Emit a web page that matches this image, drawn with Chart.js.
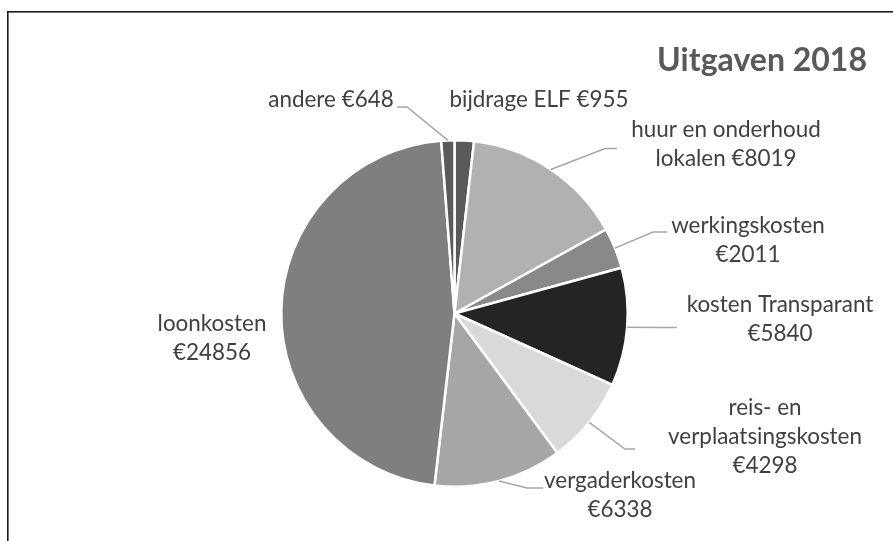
<!DOCTYPE html>
<html>
<head>
<meta charset="utf-8">
<script src="https://cdn.jsdelivr.net/npm/chart.js@4.4.1/dist/chart.umd.min.js"></script>
<style>
  html, body { margin: 0; padding: 0; background: #ffffff; }
  #wrap { width: 893px; height: 541px; position: relative; }
</style>
</head>
<body>
<div id="wrap"><canvas id="c" width="893" height="541"></canvas></div>
<script>
// ---- data ----
const categories = ["bijdrage ELF", "huur en onderhoud lokalen", "werkingskosten", "kosten Transparant",
                    "reis- en verplaatsingskosten", "vergaderkosten", "loonkosten", "andere"];
const amounts = [955, 8019, 2011, 5840, 4298, 6338, 24856, 648];
const labelLines = [
  ["bijdrage ELF €955"],
  ["huur en onderhoud", "lokalen €8019"],
  ["werkingskosten", "€2011"],
  ["kosten Transparant", "€5840"],
  ["reis- en", "verplaatsingskosten", "€4298"],
  ["vergaderkosten", "€6338"],
  ["loonkosten", "€24856"],
  ["andere €648"]
];
const chartTitle = "Uitgaven 2018";

// ---- styling / layout ----
const sliceColors = ["#5a5a5a", "#b1b1b1", "#898989", "#242424", "#d9d9d9", "#a6a6a6", "#7f7f7f", "#5a5a5a"];
// label anchor: centre x, first baseline y ; leader: elbow point and end point (null = no leader)
const labelLayout = [
  { x: 539, y: 107, elbow: null },
  { x: 726, y: 137, elbow: [605, 148.5], end: [617, 148.5] },
  { x: 748, y: 233, elbow: [653, 232], end: [667, 232] },
  { x: 780, y: 312, elbow: [660, 327.5], end: [677, 327.5] },
  { x: 765, y: 415, elbow: [625, 449], end: [635, 449] },
  { x: 620, y: 488, elbow: [527, 488], end: [543, 488] },
  { x: 212, y: 331, elbow: null },
  { x: 331, y: 107, elbow: [407, 107], end: [397, 107] }
];
const LINE_H = 29;
const FONT_FAMILY = "Lato, 'Open Sans', sans-serif";

function fitSize(ctx, text, weight, targetW) {
  ctx.font = weight + " 100px " + FONT_FAMILY;
  const w = ctx.measureText(text).width;
  return 100 * targetW / w;
}

const labelPlugin = {
  id: 'labelPlugin',
  beforeDraw(chart) {
    const ctx = chart.ctx;
    ctx.save();
    ctx.fillStyle = '#ffffff';
    ctx.fillRect(0, 0, chart.width, chart.height);
    ctx.fillStyle = '#1c1c1c';
    ctx.fillRect(7, 11, chart.width, 1.6);
    ctx.fillRect(7, 11, 1.6, chart.height);
    ctx.restore();
  },
  afterDraw(chart) {
    const ctx = chart.ctx;
    const meta = chart.getDatasetMeta(0);
    ctx.save();
    // title
    const ts = fitSize(ctx, chartTitle, 'bold', 210);
    ctx.font = "bold " + ts.toFixed(2) + "px " + FONT_FAMILY;
    ctx.fillStyle = '#595959';
    ctx.textAlign = 'right';
    ctx.textBaseline = 'alphabetic';
    ctx.fillText(chartTitle, 867, 71);

    const fs = fitSize(ctx, "verplaatsingskosten", 'normal', 194);
    meta.data.forEach((arc, i) => {
      const L = labelLayout[i];
      if (L.elbow) {
        const mid = (arc.startAngle + arc.endAngle) / 2;
        const r = arc.outerRadius;
        const sx = arc.x + Math.cos(mid) * r;
        const sy = arc.y + Math.sin(mid) * r;
        ctx.beginPath();
        ctx.strokeStyle = '#a6a6a6';
        ctx.lineWidth = 1.5;
        ctx.moveTo(sx, sy);
        ctx.lineTo(L.elbow[0], L.elbow[1]);
        ctx.lineTo(L.end[0], L.end[1]);
        ctx.stroke();
      }
      ctx.font = fs.toFixed(2) + "px " + FONT_FAMILY;
      ctx.fillStyle = '#404040';
      ctx.textAlign = 'center';
      labelLines[i].forEach((line, j) => {
        ctx.fillText(line, L.x, L.y + j * LINE_H);
      });
    });
    ctx.restore();
  }
};

new Chart(document.getElementById('c'), {
  type: 'pie',
  data: {
    labels: categories,
    datasets: [{
      data: amounts,
      backgroundColor: sliceColors,
      borderColor: '#ffffff',
      borderWidth: 2.5
    }]
  },
  options: {
    responsive: false,
    devicePixelRatio: 1,
    animation: false,
    layout: { padding: { left: 280, right: 264, top: 139, bottom: 53 } },
    plugins: {
      legend: { display: false },
      tooltip: { enabled: false },
      title: { display: false }
    }
  },
  plugins: [labelPlugin]
});
</script>
</body>
</html>
